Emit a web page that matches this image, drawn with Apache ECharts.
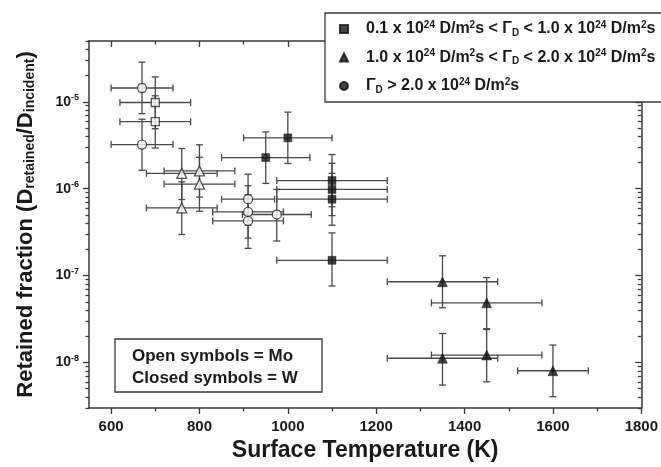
<!DOCTYPE html>
<html><head><meta charset="utf-8">
<script src="https://cdn.jsdelivr.net/npm/echarts/dist/echarts.min.js"></script>
<style>html,body{margin:0;padding:0;background:#fff}#c{width:661px;height:467px}</style>
</head><body><div id="c"></div>
<script>
// ---- tick values ----
const xMajor = [600, 800, 1000, 1200, 1400, 1600, 1800];
const xMinor = [700, 900, 1100, 1300, 1500, 1700];
const yMajor = [1e-8, 1e-7, 1e-6, 1e-5];

// ---- Mo, open squares (0.1-1.0 x10^24) ----
const moSqX = [700, 700];
const moSqY = [9.8e-6, 5.9e-6];
const moSqXErr = [80, 80];
const moSqYLo = [4.9e-6, 2.94e-6];
const moSqYHi = [1.93e-5, 1.17e-5];

// ---- Mo, open triangles (1.0-2.0 x10^24) ----
const moTriX = [760, 800, 800, 760];
const moTriY = [1.5e-6, 1.6e-6, 1.13e-6, 6.0e-7];
const moTriXErr = [80, 80, 80, 80];
const moTriYLo = [7.5e-7, 8.0e-7, 5.5e-7, 2.97e-7];
const moTriYHi = [2.9e-6, 3.2e-6, 2.3e-6, 1.2e-6];

// ---- Mo, open circles (> 2.0 x10^24) ----
const moCirX = [670, 670, 910, 910, 910, 975];
const moCirY = [1.44e-5, 3.22e-6, 7.57e-7, 5.41e-7, 4.26e-7, 5.05e-7];
const moCirXErr = [70, 70, 60, 80, 80, 78];
const moCirYLo = [7.3e-6, 1.63e-6, 3.8e-7, 2.7e-7, 2.06e-7, 2.5e-7];
const moCirYHi = [2.86e-5, 6.3e-6, 1.47e-6, 1.08e-6, 8.5e-7, 9.8e-7];

// ---- W, filled squares (0.1-1.0 x10^24) ----
const wSqX = [1000, 950, 1100, 1100, 1100, 1100];
const wSqY = [3.84e-6, 2.28e-6, 1.24e-6, 9.8e-7, 7.57e-7, 1.5e-7];
const wSqXErr = [100, 100, 125, 125, 125, 125];
const wSqYLo = [1.95e-6, 1.15e-6, 6.2e-7, 4.9e-7, 3.8e-7, 7.6e-8];
const wSqYHi = [7.6e-6, 4.5e-6, 2.47e-6, 1.96e-6, 1.5e-6, 3.1e-7];

// ---- W, filled triangles (1.0-2.0 x10^24) ----
const wTriX = [1350, 1450, 1350, 1450, 1600];
const wTriY = [8.5e-8, 4.86e-8, 1.12e-8, 1.22e-8, 8.05e-9];
const wTriXErr = [125, 125, 125, 125, 80];
const wTriYLo = [4.27e-8, 2.4e-8, 5.5e-9, 6.0e-9, 4.05e-9];
const wTriYHi = [1.69e-7, 9.5e-8, 2.16e-8, 2.45e-8, 1.59e-8];

const legendNames = ['low', 'mid', 'high'];

// ---------------------------------------------------------------
const FONT = 'Liberation Sans, Arial, Helvetica, sans-serif';
const AX = '#3a3a3a';
const TXT = '#1a1a1a';
const X_MIN = 550, X_MAX = 1800, Y_MIN = 3e-9, Y_MAX = 5e-5;

const yMinor = [];
for (let e = -9; e <= -5; e++) {
  for (let k = 2; k <= 9; k++) {
    const v = k * Math.pow(10, e);
    if (v > Y_MIN * 0.999 && v < Y_MAX * 1.001) yMinor.push(v);
  }
}

function xAx(pos, vals, len, inside, showLine, labels) {
  const o = {
    type: 'value', position: pos, min: X_MIN, max: X_MAX,
    axisLine: { show: showLine, onZero: false, lineStyle: { color: AX, width: 1.5 } },
    axisTick: { show: true, inside: inside, length: len, customValues: vals, lineStyle: { color: AX, width: 1.3 } },
    axisLabel: { show: false },
    splitLine: { show: false }
  };
  if (labels) {
    o.axisLabel = { show: true, customValues: vals, margin: 11, fontSize: 15, fontWeight: 'bold', color: TXT, fontFamily: FONT,
      formatter: v => String(v) };
    o.name = 'Surface Temperature (K)';
    o.nameLocation = 'middle';
    o.nameGap = 30;
    o.nameTextStyle = { fontSize: 23, fontWeight: 'bold', color: TXT, fontFamily: FONT };
  }
  return o;
}
function yAx(pos, vals, len, inside, showLine, labels) {
  const o = {
    type: 'log', logBase: 10, position: pos, min: Y_MIN, max: Y_MAX,
    axisLine: { show: showLine, onZero: false, lineStyle: { color: AX, width: 1.5 } },
    axisTick: { show: true, inside: inside, length: len, customValues: vals, lineStyle: { color: AX, width: 1.3 } },
    axisLabel: { show: false },
    splitLine: { show: false }
  };
  if (labels) {
    o.axisLabel = {
      show: true, customValues: vals, margin: 10,
      formatter: v => '{b|10}{s|' + Math.round(Math.log10(v)) + '}',
      rich: {
        b: { fontSize: 14, fontWeight: 'bold', color: TXT, fontFamily: FONT, lineHeight: 18 },
        s: { fontSize: 9, fontWeight: 'bold', color: TXT, fontFamily: FONT, verticalAlign: 'top', lineHeight: 10 }
      }
    };
    o.name = 'Retained fraction (D{sub|retained}/D{sub|incident})';
    o.nameLocation = 'middle';
    o.nameGap = 52;
    o.nameTextStyle = {
      fontSize: 22, fontWeight: 'bold', color: TXT, fontFamily: FONT,
      rich: {
        sub: { fontSize: 14, fontWeight: 'bold', color: TXT, fontFamily: FONT, verticalAlign: 'bottom', lineHeight: 14 }
      }
    };
  }
  return o;
}

function errSeries(xs, ys, xerr, ylo, yhi) {
  const data = xs.map((x, i) => [x, ys[i], x - xerr[i], x + xerr[i], ylo[i], yhi[i]]);
  return {
    type: 'custom', xAxisIndex: 0, yAxisIndex: 0, silent: true, z: 2,
    encode: { x: [0, 2, 3], y: [1, 4, 5] },
    data: data,
    renderItem: function (params, api) {
      const x = api.value(0), y = api.value(1);
      const c = api.coord([x, y]);
      const l = api.coord([api.value(2), y]);
      const r = api.coord([api.value(3), y]);
      const b = api.coord([x, api.value(4)]);
      const t = api.coord([x, api.value(5)]);
      const cap = 3.5;
      const st = { stroke: '#4a4a4a', lineWidth: 1.3, fill: null };
      const ln = (x1, y1, x2, y2) => ({ type: 'line', shape: { x1, y1, x2, y2 }, style: st });
      return {
        type: 'group', children: [
          ln(l[0], c[1], r[0], c[1]),
          ln(l[0], c[1] - cap, l[0], c[1] + cap),
          ln(r[0], c[1] - cap, r[0], c[1] + cap),
          ln(c[0], t[1], c[0], b[1]),
          ln(c[0] - cap, t[1], c[0] + cap, t[1]),
          ln(c[0] - cap, b[1], c[0] + cap, b[1])
        ]
      };
    }
  };
}

function pts(xs, ys) { return xs.map((x, i) => [x, ys[i]]); }

const openStyle = { color: '#ffffff', borderColor: '#2a2a2a', borderWidth: 1.3 };
const fillStyle = { color: '#111111', borderColor: '#111111', borderWidth: 0.5 };

function scat(name, sym, size, data, style) {
  return { type: 'scatter', name: name, xAxisIndex: 0, yAxisIndex: 0, symbol: sym, symbolSize: size,
    data: data, itemStyle: style, z: 3, silent: true };
}

const legendRich = {
  n: { fontSize: 16, fontWeight: 'bold', color: TXT, fontFamily: FONT, lineHeight: 18 },
  sup: { fontSize: 10, fontWeight: 'bold', color: TXT, fontFamily: FONT, verticalAlign: 'top', lineHeight: 10 },
  sub: { fontSize: 10, fontWeight: 'bold', color: TXT, fontFamily: FONT, verticalAlign: 'bottom', lineHeight: 10 },
  gap: { width: 13 }
};
const legendText = {
  low: '{gap| }{n|0.1 x 10}{sup|24}{n| D/m}{sup|2}{n|s < Γ}{sub|D}{n| < 1.0 x 10}{sup|24}{n| D/m}{sup|2}{n|s}',
  mid: '{gap| }{n|1.0 x 10}{sup|24}{n| D/m}{sup|2}{n|s < Γ}{sub|D}{n| < 2.0 x 10}{sup|24}{n| D/m}{sup|2}{n|s}',
  high: '{gap| }{n|Γ}{sub|D}{n| > 2.0 x 10}{sup|24}{n| D/m}{sup|2}{n|s}'
};

const chart = echarts.init(document.getElementById('c'), null, { renderer: 'canvas' });
chart.setOption({
  animation: false,
  backgroundColor: '#ffffff',
  grid: { left: 89, right: 15, top: 41, bottom: 59, containLabel: false },
  xAxis: [
    xAx('bottom', xMajor, 6, false, true, true),
    xAx('bottom', xMinor, 3.5, false, false, false),
    xAx('top', xMajor, 6, true, true, false),
    xAx('top', xMinor, 3.5, true, false, false)
  ],
  yAxis: [
    yAx('left', yMajor, 6, false, true, true),
    yAx('left', yMinor, 3.5, false, false, false),
    yAx('right', yMajor, 6, true, true, false),
    yAx('right', yMinor, 3.5, true, false, false)
  ],
  legend: {
    data: [
      { name: legendNames[0], icon: 'rect' },
      { name: legendNames[1], icon: 'triangle' },
      { name: legendNames[2], icon: 'circle' }
    ],
    orient: 'vertical', left: 325, top: 13,
    padding: [7, 30, 7, 14], itemGap: 10.5,
    itemWidth: 8, itemHeight: 8,
    backgroundColor: '#ffffff', borderColor: '#3a3a3a', borderWidth: 1.3,
    selectedMode: false,
    formatter: n => legendText[n],
    textStyle: { rich: legendRich, color: TXT }
  },
  graphic: [
    { type: 'rect', shape: { x: 115, y: 339, width: 207, height: 53 },
      style: { fill: '#ffffff', stroke: '#3a3a3a', lineWidth: 1.3 }, z: 10 },
    { type: 'text', x: 132, y: 356, z: 11,
      style: { text: 'Open symbols = Mo', fontSize: 17, fontWeight: 'bold', fontFamily: FONT, fill: TXT, verticalAlign: 'middle' } },
    { type: 'text', x: 132, y: 378, z: 11,
      style: { text: 'Closed symbols = W', fontSize: 17, fontWeight: 'bold', fontFamily: FONT, fill: TXT, verticalAlign: 'middle' } }
  ],
  series: [
    errSeries(moSqX, moSqY, moSqXErr, moSqYLo, moSqYHi),
    errSeries(moTriX, moTriY, moTriXErr, moTriYLo, moTriYHi),
    errSeries(moCirX, moCirY, moCirXErr, moCirYLo, moCirYHi),
    errSeries(wSqX, wSqY, wSqXErr, wSqYLo, wSqYHi),
    errSeries(wTriX, wTriY, wTriXErr, wTriYLo, wTriYHi),
    scat('moSq', 'rect', 8, pts(moSqX, moSqY), openStyle),
    scat('moTri', 'triangle', 10, pts(moTriX, moTriY), openStyle),
    scat('moCir', 'circle', 9, pts(moCirX, moCirY), openStyle),
    scat(legendNames[0], 'rect', 8, pts(wSqX, wSqY), fillStyle),
    scat(legendNames[1], 'triangle', 10, pts(wTriX, wTriY), fillStyle),
    scat(legendNames[2], 'circle', 9, [], fillStyle)
  ]
});
</script></body></html>
